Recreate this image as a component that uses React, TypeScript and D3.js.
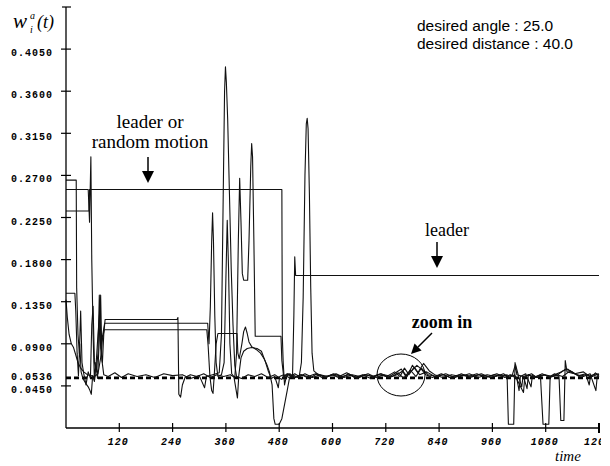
import React from 'react';
import * as d3 from 'd3';

// weight of each agent over time as [time, weight]
const agentA: [number, number][] = [
  [0, 0.232], [52, 0.232], [53, 0.255], [486, 0.255], [487, 0.098], [489, 0.07], [492, 0.046], [496, 0.055],
  [504, 0.058], [515, 0.054], [530, 0.057], [548, 0.053], [565, 0.058], [582, 0.055], [600, 0.057], [618, 0.053],
  [636, 0.058], [655, 0.054], [672, 0.057], [690, 0.055], [708, 0.058], [725, 0.054], [742, 0.059], [755, 0.063],
  [765, 0.055], [778, 0.061], [790, 0.067], [800, 0.063], [810, 0.057], [825, 0.054], [845, 0.058], [865, 0.054],
  [885, 0.057], [905, 0.055], [925, 0.058], [945, 0.054], [965, 0.057], [982, 0.055], [993, 0.057], [996, 0.004],
  [1008, 0.004], [1011, 0.07], [1015, 0.057], [1030, 0.055], [1038, 0.042], [1041, 0.057], [1052, 0.054],
  [1068, 0.057], [1074, 0.004], [1087, 0.004], [1090, 0.055], [1100, 0.058], [1110, 0.055], [1114, 0.008],
  [1121, 0.008], [1124, 0.072], [1128, 0.06], [1145, 0.058], [1165, 0.06], [1182, 0.054], [1192, 0.059],
  [1200, 0.055],
];

const agentB: [number, number][] = [
  [0, 0.255], [50, 0.255], [53, 0.22], [56, 0.29], [58, 0.18], [61, 0.1], [64, 0.05], [67, 0.07], [71, 0.053],
  [75, 0.095], [78, 0.142], [81, 0.072], [85, 0.057], [95, 0.055], [110, 0.059], [125, 0.054], [140, 0.058],
  [160, 0.055], [180, 0.057], [200, 0.054], [220, 0.058], [240, 0.056], [262, 0.057], [280, 0.053], [300, 0.056],
  [312, 0.043], [316, 0.055], [330, 0.057], [345, 0.059], [350, 0.1], [354, 0.25], [357, 0.36], [359, 0.386],
  [361, 0.37], [364, 0.33], [368, 0.25], [372, 0.17], [376, 0.11], [380, 0.067], [384, 0.055], [395, 0.053],
  [410, 0.057], [425, 0.055], [440, 0.058], [455, 0.054], [470, 0.057], [485, 0.052], [500, 0.058], [510, 0.055],
  [513, 0.12], [515, 0.183], [517, 0.163], [1200, 0.163],
];

const agentC: [number, number][] = [
  [0, 0.265], [23, 0.265], [24, 0.15], [27, 0.1], [30, 0.08], [33, 0.125], [36, 0.07], [40, 0.058], [45, 0.046],
  [50, 0.06], [55, 0.053], [58, 0.11], [61, 0.13], [64, 0.07], [68, 0.06], [72, 0.08], [75, 0.142], [78, 0.085],
  [82, 0.07], [85, 0.1], [88, 0.116], [250, 0.116], [252, 0.118], [254, 0.036], [258, 0.033], [262, 0.046],
  [268, 0.054], [280, 0.057], [295, 0.055], [310, 0.058], [325, 0.054], [340, 0.057], [355, 0.055], [370, 0.057],
  [380, 0.054], [384, 0.08], [388, 0.2], [391, 0.267], [394, 0.22], [397, 0.165], [400, 0.158], [409, 0.158],
  [412, 0.2], [416, 0.28], [418, 0.304], [420, 0.29], [423, 0.2], [426, 0.098], [484, 0.098], [486, 0.072],
  [490, 0.055], [498, 0.058], [512, 0.053], [528, 0.057], [545, 0.055], [562, 0.058], [580, 0.053], [598, 0.057],
  [615, 0.055], [632, 0.059], [650, 0.054], [668, 0.057], [686, 0.053], [704, 0.057], [722, 0.055], [740, 0.06],
  [752, 0.055], [762, 0.064], [772, 0.057], [784, 0.065], [796, 0.057], [812, 0.06], [830, 0.055], [850, 0.057],
  [870, 0.053], [890, 0.058], [910, 0.054], [930, 0.057], [950, 0.055], [970, 0.058], [988, 0.054], [1000, 0.057],
  [1015, 0.053], [1020, 0.04], [1023, 0.055], [1035, 0.058], [1047, 0.044], [1050, 0.056], [1062, 0.054],
  [1078, 0.057], [1095, 0.055], [1108, 0.057], [1118, 0.061], [1130, 0.063], [1140, 0.059], [1155, 0.056],
  [1170, 0.058], [1178, 0.046], [1181, 0.056], [1195, 0.058], [1200, 0.057],
];

const agentD: [number, number][] = [
  [0, 0.137], [3, 0.118], [7, 0.1], [12, 0.09], [17, 0.086], [22, 0.078], [27, 0.07], [33, 0.064], [40, 0.06],
  [48, 0.057], [56, 0.056], [64, 0.055], [72, 0.058], [78, 0.075], [82, 0.095], [86, 0.105], [317, 0.105],
  [320, 0.088], [324, 0.055], [328, 0.04], [331, 0.037], [334, 0.058], [338, 0.09], [342, 0.101], [385, 0.101],
  [387, 0.08], [390, 0.074], [396, 0.09], [400, 0.103], [404, 0.108], [408, 0.101], [412, 0.092], [418, 0.087],
  [428, 0.084], [438, 0.08], [446, 0.074], [452, 0.068], [458, 0.06], [464, 0.046], [468, 0.01], [471, 0.004],
  [480, 0.004], [486, 0.01], [498, 0.04], [503, 0.053], [510, 0.057], [522, 0.054], [538, 0.058], [555, 0.054],
  [572, 0.057], [590, 0.055], [608, 0.058], [626, 0.054], [644, 0.057], [662, 0.055], [680, 0.058], [698, 0.054],
  [716, 0.057], [734, 0.055], [748, 0.059], [760, 0.053], [775, 0.062], [788, 0.055], [800, 0.064], [815, 0.057],
  [835, 0.055], [855, 0.058], [875, 0.054], [895, 0.057], [915, 0.055], [935, 0.058], [955, 0.054], [975, 0.057],
  [995, 0.055], [1005, 0.057], [1012, 0.068], [1018, 0.057], [1026, 0.044], [1029, 0.055], [1042, 0.057],
  [1056, 0.054], [1072, 0.058], [1090, 0.054], [1105, 0.057], [1118, 0.055], [1135, 0.061], [1150, 0.057],
  [1165, 0.055], [1180, 0.058], [1193, 0.04], [1196, 0.055], [1200, 0.056],
];

const agentE: [number, number][] = [
  [0, 0.144], [20, 0.144], [22, 0.125], [25, 0.08], [28, 0.056], [31, 0.09], [34, 0.06], [38, 0.053], [44, 0.048],
  [50, 0.044], [54, 0.04], [57, 0.036], [60, 0.056], [64, 0.05], [68, 0.07], [72, 0.1], [76, 0.125], [79, 0.09],
  [83, 0.1], [87, 0.112], [319, 0.112], [322, 0.09], [325, 0.13], [328, 0.2], [330, 0.23], [332, 0.2], [335, 0.12],
  [338, 0.07], [342, 0.055], [350, 0.057], [356, 0.07], [360, 0.16], [363, 0.222], [366, 0.17], [369, 0.09],
  [373, 0.058], [378, 0.055], [386, 0.032], [389, 0.056], [394, 0.075], [400, 0.082], [408, 0.085], [418, 0.086],
  [430, 0.085], [440, 0.082], [448, 0.072], [456, 0.06], [462, 0.053], [470, 0.055], [478, 0.043], [481, 0.055],
  [490, 0.057], [502, 0.054], [515, 0.058], [525, 0.055], [530, 0.07], [534, 0.14], [538, 0.27], [541, 0.325],
  [543, 0.331], [545, 0.32], [548, 0.25], [551, 0.15], [554, 0.08], [558, 0.061], [568, 0.057], [585, 0.054],
  [602, 0.058], [620, 0.055], [638, 0.057], [656, 0.053], [674, 0.057], [692, 0.055], [710, 0.058], [728, 0.054],
  [745, 0.057], [758, 0.061], [768, 0.055], [780, 0.067], [792, 0.059], [805, 0.069], [818, 0.061], [830, 0.057],
  [848, 0.054], [868, 0.057], [888, 0.055], [908, 0.058], [928, 0.054], [948, 0.057], [968, 0.055], [985, 0.058],
  [998, 0.054], [1010, 0.057], [1030, 0.038], [1033, 0.055], [1048, 0.058], [1060, 0.054], [1075, 0.057],
  [1092, 0.055], [1105, 0.058], [1116, 0.06], [1125, 0.063], [1140, 0.06], [1155, 0.055], [1170, 0.057],
  [1185, 0.055], [1200, 0.058],
];

const agents = [agentA, agentB, agentC, agentD, agentE];
const desiredWeight = 0.0536;
const yTicks = [0.045, 0.09, 0.135, 0.18, 0.225, 0.27, 0.315, 0.36, 0.405];
const xTicks = [120, 240, 360, 480, 600, 720, 840, 960, 1080, 1200];

const W = 610;
const H = 466;

const x = d3.scaleLinear().domain([0, 1200]).range([66, 599]);
const y = d3.scaleLinear().domain([0, 0.45]).range([428, 7]);

const line = d3.line<[number, number]>()
  .x(d => x(d[0]))
  .y(d => y(d[1]));

const tickFont = { fontFamily: 'Liberation Mono, monospace', fontWeight: 'bold', fontSize: 10, letterSpacing: 1 };
const serif = 'Liberation Serif, Times New Roman, serif';

function Arrow({ x1, y1, x2, y2, head = 12 }: { x1: number; y1: number; x2: number; y2: number; head?: number }) {
  // shaft plus filled triangle head at (x2, y2)
  const ang = Math.atan2(y2 - y1, x2 - x1);
  const bx = x2 - head * Math.cos(ang);
  const by = y2 - head * Math.sin(ang);
  const w = head / 2;
  const px = -Math.sin(ang) * w;
  const py = Math.cos(ang) * w;
  return (
    <g>
      <line x1={x1} y1={y1} x2={bx} y2={by} stroke="#000" strokeWidth={1.5} />
      <path d={`M${x2},${y2}L${bx + px},${by + py}L${bx - px},${by - py}Z`} fill="#000" />
    </g>
  );
}

export default function App() {
  const x0 = x(0);
  const yBase = y(0);
  return (
    <svg width={W} height={H} style={{ position: 'absolute', left: 0, top: 0, background: '#fff' }}>
      <defs>
        <clipPath id="edge">
          <rect x={0} y={0} width={601} height={H} />
        </clipPath>
      </defs>

      {/* desired weight, dashed */}
      <line x1={x0} x2={x(1200)} y1={y(desiredWeight)} y2={y(desiredWeight)}
        stroke="#000" strokeWidth={2.6} strokeDasharray="5,3" />

      {agents.map((a, i) => (
        <path key={i} d={line(a) ?? ''} fill="none" stroke="#111" strokeWidth={1.1} strokeLinejoin="round" />
      ))}

      {/* y axis */}
      <line x1={x0} x2={x0} y1={y(0.45)} y2={yBase} stroke="#000" strokeWidth={1.3} />
      <line x1={x0 - 4} x2={x0 + 5} y1={y(0.45)} y2={y(0.45)} stroke="#000" strokeWidth={1.2} />
      {yTicks.map(t => (
        <g key={t}>
          <line x1={x0 - 5} x2={x0 + 5} y1={y(t)} y2={y(t)} stroke="#000" strokeWidth={1.2} />
          <text x={53} y={y(t) + 7} textAnchor="end" {...tickFont}>{t.toFixed(4)}</text>
        </g>
      ))}
      <text x={53} y={y(desiredWeight) + 2} textAnchor="end" {...tickFont}>{desiredWeight.toFixed(4)}</text>

      {/* x axis */}
      <line x1={x0} x2={x(1200)} y1={yBase} y2={yBase} stroke="#000" strokeWidth={1.3} />
      <g clipPath="url(#edge)">
        {xTicks.map(t => (
          <g key={t}>
            <line x1={x(t)} x2={x(t)} y1={yBase - 5} y2={yBase + (t === 1200 ? 5 : 4)} stroke="#000"
              strokeWidth={t === 1200 ? 2 : 1.2} />
            <text x={x(t) - 1} y={yBase + 17} textAnchor="middle" {...tickFont} fontStyle="italic">{t}</text>
          </g>
        ))}
      </g>
      <text x={555} y={461} fontFamily={serif} fontStyle="italic" fontSize={15}>time</text>

      {/* y label  w_i^a(t) */}
      <text x={13} y={28} fontFamily={serif} fontStyle="italic" fontSize={21}>w</text>
      <text x={30} y={19} fontFamily={serif} fontStyle="italic" fontSize={10}>a</text>
      <text x={30} y={33} fontFamily={serif} fontStyle="italic" fontSize={10}>i</text>
      <text x={37} y={28} fontFamily={serif} fontStyle="italic" fontSize={18}>(t)</text>

      {/* settings */}
      <text x={417} y={31} fontFamily="Liberation Sans, Arial, sans-serif" fontSize={15.5}>desired angle : 25.0</text>
      <text x={417} y={49} fontFamily="Liberation Sans, Arial, sans-serif" fontSize={15.5}>desired distance : 40.0</text>

      {/* annotations */}
      <text x={150} y={128} textAnchor="middle" fontFamily={serif} fontSize={19}>leader or</text>
      <text x={150} y={148} textAnchor="middle" fontFamily={serif} fontSize={19}>random motion</text>
      <Arrow x1={148} y1={157} x2={148} y2={183} />

      <text x={447} y={236} textAnchor="middle" fontFamily={serif} fontSize={18}>leader</text>
      <Arrow x1={437} y1={242} x2={437} y2={268} />

      <text x={442} y={328} textAnchor="middle" fontFamily={serif} fontWeight="bold" fontSize={18}>zoom in</text>
      <Arrow x1={432} y1={333} x2={411} y2={354} head={10} />
      <ellipse cx={401} cy={375} rx={24} ry={21} fill="none" stroke="#000" strokeWidth={1} />
    </svg>
  );
}
